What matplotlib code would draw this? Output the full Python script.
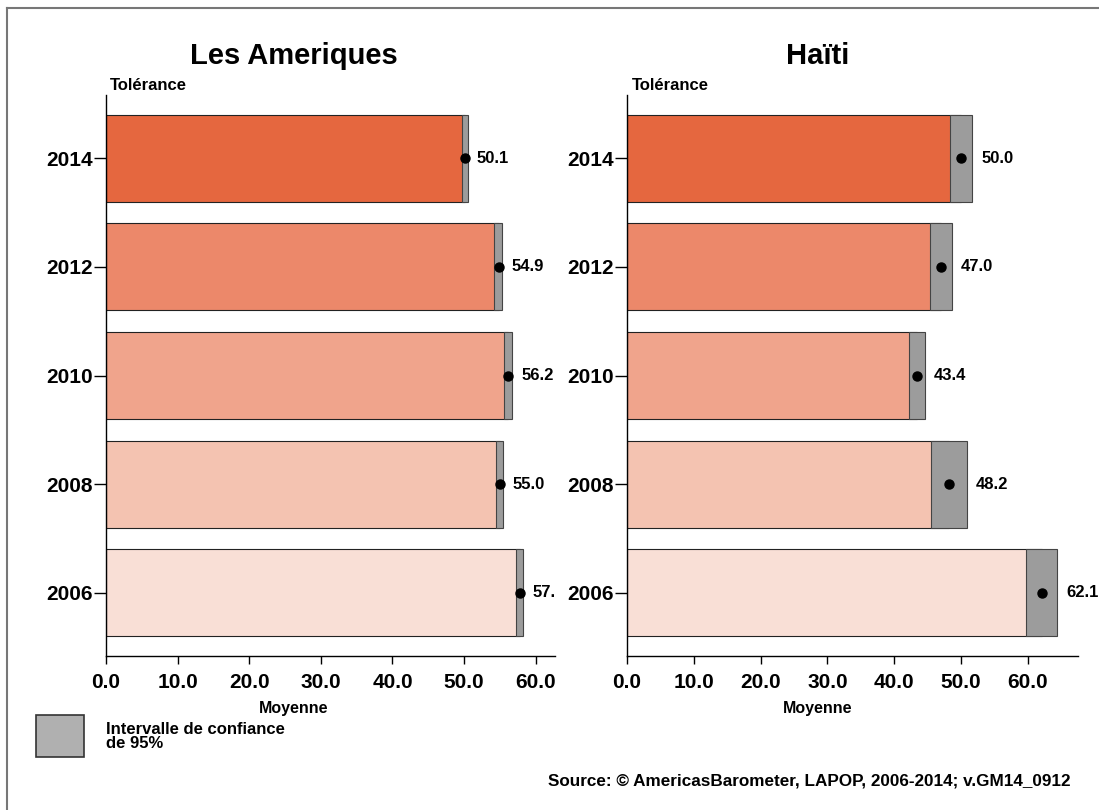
import matplotlib
matplotlib.use("Agg")
import matplotlib.pyplot as plt
import numpy as np
from matplotlib.patches import Rectangle
from matplotlib.lines import Line2D
from matplotlib.transforms import Bbox, TransformedBbox

plt.rcParams['font.family'] = ['Liberation Sans', 'DejaVu Sans']
plt.rcParams['font.weight'] = 'bold'

# donnees : tolerance moyenne par annee, avec intervalle de confiance 95%
annees = ['2014', '2012', '2010', '2008', '2006']
couleurs = ['#E5673F', '#EC886A', '#F0A48C', '#F4C3B1', '#F9DFD6']

amer_moy = [50.1, 54.9, 56.2, 55.0, 57.8]
amer_bas = [49.65, 54.2, 55.6, 54.4, 57.3]
amer_haut = [50.55, 55.3, 56.75, 55.45, 58.3]

haiti_moy = [50.0, 47.0, 43.4, 48.2, 62.1]
haiti_bas = [48.35, 45.3, 42.2, 45.5, 59.75]
haiti_haut = [51.7, 48.65, 44.55, 50.9, 64.4]

W, H = 1099, 810
fig = plt.figure(figsize=(W / 100, H / 100), dpi=100)


def px(x0, y0, x1, y1):
    # rectangle en pixels (haut-gauche) -> coordonnees figure
    return [x0 / W, 1 - y1 / H, (x1 - x0) / W, (y1 - y0) / H]


def panneau(rect, moy, bas, haut, xmax, clip_x=None):
    ax = fig.add_axes(rect)
    y = np.arange(len(annees))
    ax.barh(y, moy, height=0.8, color=couleurs, edgecolor='#222222', linewidth=0.8, zorder=2)
    ax.barh(y, np.array(haut) - np.array(bas), left=bas, height=0.8,
            color='#9C9C9C', edgecolor='#444444', linewidth=0.8, zorder=3)
    ax.plot(moy, y, 'o', color='black', markersize=6.5, zorder=4)
    for yi, m, h in zip(y, moy, haut):
        t = ax.annotate(f'{m:.1f}', xy=(h, yi), xytext=(6.5, 0), textcoords='offset points',
                        va='center', ha='left', fontsize=12, fontweight='bold',
                        annotation_clip=False)
        if clip_x is not None:
            t.set_clip_on(True)
            t.set_clip_box(TransformedBbox(Bbox([[0, 0], [clip_x / W, 1]]), fig.transFigure))
    ax.set_xlim(0, xmax)
    ax.set_ylim(4.58, -0.58)
    ax.set_yticks(y)
    ax.set_yticklabels(annees, fontsize=15, fontweight='bold')
    ax.set_xticks(np.arange(0, 61, 10))
    ax.set_xticklabels([f'{v:.1f}' for v in np.arange(0, 61, 10)], fontsize=15, fontweight='bold')
    ax.spines['top'].set_visible(False)
    ax.spines['right'].set_visible(False)
    ax.spines['left'].set_linewidth(1.0)
    ax.spines['bottom'].set_linewidth(1.0)
    ax.tick_params(axis='y', length=8.5, width=1.0, pad=1)
    ax.tick_params(axis='x', length=6, width=1.0, pad=6)
    ax.set_facecolor('none')
    return ax


ax1 = panneau(px(106, 95, 555, 656), amer_moy, amer_bas, amer_haut, 62.7, clip_x=554)
ax2 = panneau(px(627, 95, 1078, 656), haiti_moy, haiti_bas, haiti_haut, 67.5)

# titres et libelles
fig.text(294 / W, 1 - 56 / H, 'Les Ameriques', ha='center', va='center', fontsize=21, fontweight='bold')
fig.text(818 / W, 1 - 56 / H, 'Haïti', ha='center', va='center', fontsize=21, fontweight='bold')
for x0 in (110, 632):
    fig.text(x0 / W, 1 - 86 / H, 'Tolérance', ha='left', va='center', fontsize=12, fontweight='bold')
for xc in (294, 818):
    fig.text(xc / W, 1 - 709 / H, 'Moyenne', ha='center', va='center', fontsize=11.5, fontweight='bold')

# legende de l'intervalle de confiance
fig.add_artist(Rectangle((36 / W, 1 - 757 / H), 48 / W, 42 / H, transform=fig.transFigure,
                         facecolor='#B0B0B0', edgecolor='#333333', linewidth=1.2))
fig.text(106 / W, 1 - 722 / H, 'Intervalle de confiance\nde 95%', ha='left', va='top',
         fontsize=12, fontweight='bold', linespacing=0.95)

fig.text(1070 / W, 1 - 781 / H, 'Source: © AmericasBarometer, LAPOP, 2006-2014; v.GM14_0912',
         ha='right', va='center', fontsize=12.3, fontweight='bold')

# cadre gris en haut et a gauche
fig.add_artist(Line2D([7 / W, 7 / W], [0, 1 - 8 / H], transform=fig.transFigure, color='#777777', lw=1.5))
fig.add_artist(Line2D([7 / W, 1], [1 - 8 / H, 1 - 8 / H], transform=fig.transFigure, color='#777777', lw=1.5))

fig.savefig('out.png', dpi=100)
